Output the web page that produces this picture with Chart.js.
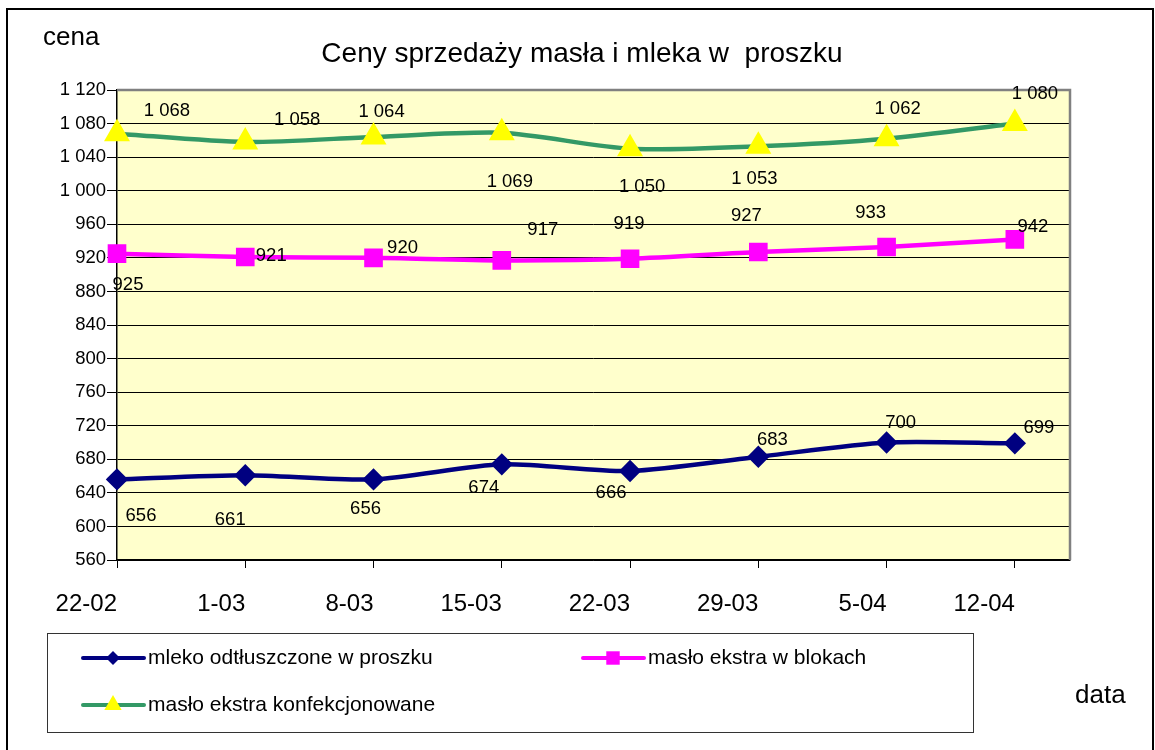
<!DOCTYPE html>
<html>
<head>
<meta charset="utf-8">
<script src="https://cdn.jsdelivr.net/npm/chart.js@4.4.0/dist/chart.umd.min.js"></script>
<style>
  html, body { margin: 0; padding: 0; background: #fff; }
  canvas { display: block; }
</style>
</head>
<body>
<canvas id="chart" width="1155" height="750"></canvas>
<script>
// dane
const categories = ["22-02", "1-03", "8-03", "15-03", "22-03", "29-03", "5-04", "12-04"];
const mlekoValues = [656, 661, 656, 674, 666, 683, 700, 699];
const masloBlokiValues = [925, 921, 920, 917, 919, 927, 933, 942];
const masloKonfValues = [1068, 1058, 1064, 1069, 1050, 1053, 1062, 1080];
const seriesNames = ["mleko odtłuszczone w proszku", "masło ekstra w blokach", "masło ekstra konfekcjonowane"];
const yMin = 560, yMax = 1120, yStep = 40;

// przesunięcia etykiet danych (px) względem punktu
const mlekoLabelOffsets = [[24, 36], [-15, 45], [-8, 29], [-18, 24], [-19, 22], [14, -17], [14, -20], [24, -15]];
const masloBlokiLabelOffsets = [[11, 31], [26, -1], [29, -10], [41, -30], [-1, -35], [-12, -36], [-16, -34], [18, -12]];
const masloKonfLabelOffsets = [[50, -23], [52, -22], [8, -25], [8, 49], [12, 38], [-4, 33], [11, -30], [20, -30]];

const FONT = "'Liberation Sans', Arial, sans-serif";

function fmt(v) {
    if (v >= 1000) return Math.floor(v / 1000) + " " + String(v % 1000).padStart(3, "0");
    return String(v);
}

function toPoints(values) {
    return values.map((v, i) => ({ x: i, y: v }));
}

function drawMarker(ctx, style, x, y, r, fill) {
    ctx.save();
    ctx.fillStyle = fill;
    ctx.beginPath();
    if (style === "rectRot") {
        ctx.moveTo(x, y - r); ctx.lineTo(x + r, y); ctx.lineTo(x, y + r); ctx.lineTo(x - r, y);
    } else if (style === "rect") {
        const s = r * Math.SQRT1_2;
        ctx.rect(x - s, y - s, 2 * s, 2 * s);
    } else {
        ctx.moveTo(x, y - r);
        ctx.lineTo(x + r * 0.866, y + r * 0.5);
        ctx.lineTo(x - r * 0.866, y + r * 0.5);
    }
    ctx.closePath();
    ctx.fill();
    ctx.restore();
}

const framePlugin = {
    id: "frame",
    beforeDraw(chart) {
        const { ctx, chartArea: a } = chart;
        ctx.save();
        ctx.fillStyle = "#fff";
        ctx.fillRect(0, 0, chart.width, chart.height);
        ctx.fillStyle = "#FFFFCC";
        ctx.fillRect(a.left, a.top, a.right - a.left, a.bottom - a.top);
        ctx.restore();
    },
    beforeDatasetsDraw(chart) {
        const { ctx, chartArea: a } = chart;
        ctx.save();
        ctx.strokeStyle = "#808080";
        ctx.lineWidth = 2.5;
        ctx.beginPath();
        ctx.moveTo(a.left, a.top);
        ctx.lineTo(a.right, a.top);
        ctx.lineTo(a.right, a.bottom);
        ctx.stroke();
        ctx.restore();
    },
    afterDatasetsDraw(chart) {
        const ctx = chart.ctx;
        const offsets = [mlekoLabelOffsets, masloBlokiLabelOffsets, masloKonfLabelOffsets];
        ctx.save();
        ctx.font = "18.5px " + FONT;
        ctx.fillStyle = "#000";
        ctx.textAlign = "center";
        ctx.textBaseline = "middle";
        chart.data.datasets.forEach((ds, di) => {
            const meta = chart.getDatasetMeta(di);
            meta.data.forEach((pt, i) => {
                const off = offsets[di][i];
                ctx.fillText(fmt(ds.data[i].y), pt.x + off[0], pt.y + off[1]);
            });
        });
        ctx.restore();
    },
    afterDraw(chart) {
        const ctx = chart.ctx;
        ctx.save();
        // ramka zewnętrzna
        ctx.strokeStyle = "#000";
        ctx.lineWidth = 2;
        ctx.strokeRect(7, 9, 1146, 760);

        ctx.fillStyle = "#000";
        ctx.textBaseline = "alphabetic";
        ctx.textAlign = "center";
        ctx.font = "28px " + FONT;
        ctx.fillText("Ceny sprzedaży masła i mleka w  proszku", 582, 62);
        ctx.textAlign = "left";
        ctx.font = "26px " + FONT;
        ctx.fillText("cena", 43, 45);
        ctx.fillText("data", 1075, 703);

        // legenda
        ctx.strokeStyle = "#333";
        ctx.lineWidth = 1;
        ctx.strokeRect(47.5, 633.5, 926, 99);
        const items = [{ x: 83, y: 658 }, { x: 583, y: 658 }, { x: 83, y: 705 }];
        const legendMarker = [7, 9.5, 10];
        chart.data.datasets.forEach((ds, di) => {
            const it = items[di];
            ctx.strokeStyle = ds.borderColor;
            ctx.lineWidth = 4;
            ctx.lineCap = "round";
            ctx.beginPath();
            ctx.moveTo(it.x, it.y);
            ctx.lineTo(it.x + 61, it.y);
            ctx.stroke();
            drawMarker(ctx, ds.pointStyle, it.x + 30, it.y, legendMarker[di], ds.pointBackgroundColor);
            ctx.fillStyle = "#000";
            ctx.font = "21px " + FONT;
            ctx.fillText(ds.label, it.x + 65, it.y + 6);
        });
        ctx.restore();
    }
};

new Chart(document.getElementById("chart"), {
    type: "line",
    data: {
        datasets: [
            {
                label: seriesNames[0],
                data: toPoints(mlekoValues),
                borderColor: "#000080",
                pointBackgroundColor: "#000080",
                pointBorderColor: "#000080",
                borderWidth: 4.5,
                pointStyle: "rectRot",
                pointRadius: 8,
                tension: 0.25,
                clip: false,
            },
            {
                label: seriesNames[1],
                data: toPoints(masloBlokiValues),
                borderColor: "#FF00FF",
                pointBackgroundColor: "#FF00FF",
                pointBorderColor: "#FF00FF",
                borderWidth: 4.5,
                pointStyle: "rect",
                pointRadius: 10,
                tension: 0.25,
                clip: false,
            },
            {
                label: seriesNames[2],
                data: toPoints(masloKonfValues),
                borderColor: "#339966",
                pointBackgroundColor: "#FFFF00",
                pointBorderColor: "#FFFF00",
                borderWidth: 4.5,
                pointStyle: "triangle",
                pointRadius: 10.5,
                tension: 0.25,
                clip: false,
            },
        ],
    },
    options: {
        responsive: false,
        animation: false,
        layout: { padding: { left: 0, top: 90, right: 85, bottom: 0 } },
        plugins: {
            legend: { display: false },
            title: { display: false },
            tooltip: { enabled: false },
        },
        scales: {
            x: {
                type: "linear",
                min: 0,
                max: 7.43,
                afterBuildTicks: (s) => { s.ticks = categories.map((_, i) => ({ value: i })); },
                afterFit: (s) => { s.height = 190; },
                grid: { drawOnChartArea: false, tickLength: 8, color: "#000", lineWidth: 1 },
                border: { color: "#000", width: 1.5 },
                ticks: {
                    align: "end",
                    padding: 22,
                    color: "#000",
                    maxRotation: 0,
                    autoSkip: false,
                    font: { family: FONT, size: 24 },
                    callback: (v) => categories[v] !== undefined ? categories[v] : "",
                },
            },
            y: {
                min: yMin,
                max: yMax,
                afterFit: (s) => { s.width = 117; },
                grid: {
                    color: (c) => (c.tick && c.tick.value === yMax ? "rgba(0,0,0,0)" : "#000"),
                    tickColor: "#000",
                    lineWidth: 1,
                    tickLength: 10,
                },
                border: { color: "#000", width: 1.5 },
                ticks: {
                    stepSize: yStep,
                    padding: 1,
                    color: "#000",
                    font: { family: FONT, size: 18.5 },
                    callback: (v) => fmt(v),
                },
            },
        },
    },
    plugins: [framePlugin],
});
</script>
</body>
</html>
